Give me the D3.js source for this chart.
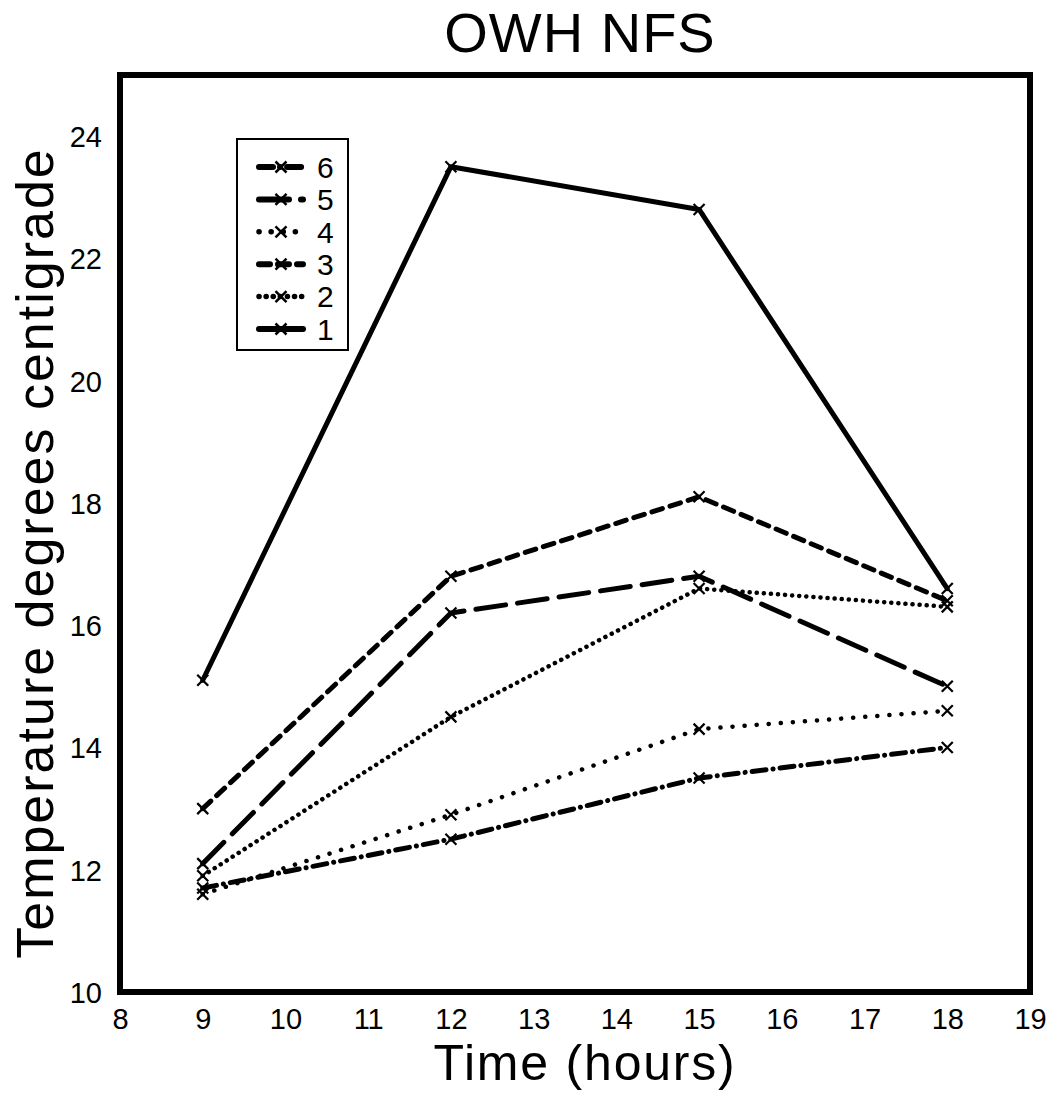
<!DOCTYPE html>
<html lang="en">
<head>
  <meta charset="UTF-8">
  <title>OWH NFS</title>
  <style>
    body { margin: 0; background: #fff; }
    svg { display: block; }
    text { font-family: 'Liberation Sans', Arial, sans-serif; fill: #000; }
  </style>
</head>
<body>
  <svg width="1060" height="1093"></svg>
  <script src="https://d3js.org/d3.v7.min.js"></script>
  <script>
    // data
    const hours = [9, 12, 15, 18];
    const series1 = [15.1, 23.5, 22.8, 16.6];
    const series2 = [11.9, 14.5, 16.6, 16.3];
    const series3 = [13.0, 16.8, 18.1, 16.4];
    const series4 = [11.6, 12.9, 14.3, 14.6];
    const series5 = [12.1, 16.2, 16.8, 15.0];
    const series6 = [11.7, 12.5, 13.5, 14.0];
    const seriesNames = ['1', '2', '3', '4', '5', '6'];
    const xTicks = [8, 9, 10, 11, 12, 13, 14, 15, 16, 17, 18, 19];
    const yTicks = [10, 12, 14, 16, 18, 20, 22, 24];

    const svg = d3.select('svg');

    // plot frame
    const plotLeft = 120, plotRight = 1030, plotTop = 75, plotBottom = 992;

    const x = d3.scaleLinear().domain([8, 19]).range([plotLeft, plotRight]);
    const y = d3.scaleLinear().domain([10, 25]).range([plotBottom, plotTop]);

    // line styles per series (solid, dotted, short dash, sparse dots, long dash, dash-dot)
    const styles = {
      '1': { dash: null, width: 5 },
      '2': { dash: '0.1 7', width: 4.5 },
      '3': { dash: '11 8', width: 5 },
      '4': { dash: '0.1 12', width: 4.5 },
      '5': { dash: '30 12', width: 5 },
      '6': { dash: '14 7 0.1 7', width: 5 }
    };

    const allSeries = [series1, series2, series3, series4, series5, series6];
    const lines = seriesNames.map((name, i) => ({
      name: name,
      points: hours.map((h, j) => ({ h: h, v: allSeries[i][j] }))
    }));

    // title
    svg.append('text')
      .attr('x', 580)
      .attr('y', 52)
      .attr('text-anchor', 'middle')
      .style('font-size', '56px')
      .style('letter-spacing', '1px')
      .text('OWH NFS');

    // axes (labels only, no tick marks)
    const xAxis = d3.axisBottom(x).tickValues(xTicks).tickSize(0).tickPadding(16).tickFormat(d3.format('d'));
    const gx = svg.append('g').attr('transform', `translate(0,${plotBottom})`).call(xAxis);
    gx.select('.domain').remove();
    gx.selectAll('text').style('font-size', '29px').attr('dy', '0.71em');

    const yAxis = d3.axisLeft(y).tickValues(yTicks).tickSize(0).tickPadding(18).tickFormat(d3.format('d'));
    const gy = svg.append('g').attr('transform', `translate(${plotLeft},0)`).call(yAxis);
    gy.select('.domain').remove();
    gy.selectAll('text').style('font-size', '29px').attr('dy', '0.36em');

    // axis titles
    svg.append('text')
      .attr('x', 585)
      .attr('y', 1080)
      .attr('text-anchor', 'middle')
      .style('font-size', '50px')
      .style('letter-spacing', '1.8px')
      .text('Time (hours)');

    svg.append('text')
      .attr('transform', `translate(53,553) rotate(-90)`)
      .attr('text-anchor', 'middle')
      .style('font-size', '52px')
      .style('letter-spacing', '2px')
      .text('Temperature degrees centigrade');

    // series lines
    const line = d3.line().x(d => x(d.h)).y(d => y(d.v));

    svg.selectAll('path.series')
      .data(lines)
      .enter().append('path')
      .attr('class', 'series')
      .attr('d', d => line(d.points))
      .attr('fill', 'none')
      .attr('stroke', '#000')
      .attr('stroke-width', d => styles[d.name].width)
      .attr('stroke-linecap', 'round')
      .attr('stroke-linejoin', 'round')
      .attr('stroke-dasharray', d => styles[d.name].dash);

    // x markers
    const m = 5.5;
    const markerPath = (cx, cy) => `M${cx - m},${cy - m}L${cx + m},${cy + m}M${cx - m},${cy + m}L${cx + m},${cy - m}`;
    lines.forEach(s => {
      svg.selectAll(null)
        .data(s.points)
        .enter().append('path')
        .attr('d', d => markerPath(x(d.h), y(d.v)))
        .attr('stroke', '#000')
        .attr('stroke-width', 2.2)
        .attr('fill', 'none');
    });

    // frame
    svg.append('rect')
      .attr('x', plotLeft)
      .attr('y', plotTop)
      .attr('width', plotRight - plotLeft)
      .attr('height', plotBottom - plotTop)
      .attr('fill', 'none')
      .attr('stroke', '#000')
      .attr('stroke-width', 6);

    // legend
    const legend = svg.append('g').attr('transform', 'translate(237,139)');
    legend.append('rect')
      .attr('width', 111)
      .attr('height', 211)
      .attr('fill', '#fff')
      .attr('stroke', '#000')
      .attr('stroke-width', 2);

    const legendOrder = seriesNames.slice().reverse();
    const ly = d3.scalePoint().domain(legendOrder).range([28, 190]);

    const items = legend.selectAll('g.item')
      .data(legendOrder)
      .enter().append('g')
      .attr('class', 'item')
      .attr('transform', d => `translate(0,${ly(d)})`);

    items.append('line')
      .attr('x1', 22)
      .attr('x2', 66)
      .attr('y1', 0)
      .attr('y2', 0)
      .attr('stroke', '#000')
      .attr('stroke-width', d => styles[d].width + 1)
      .attr('stroke-linecap', 'round')
      .attr('stroke-dasharray', d => styles[d].dash);

    items.append('path')
      .attr('d', markerPath(44, 0))
      .attr('stroke', '#000')
      .attr('stroke-width', 2.5)
      .attr('fill', 'none');

    items.append('text')
      .attr('x', 80)
      .attr('y', 0)
      .attr('dy', '0.36em')
      .style('font-size', '30px')
      .text(d => d);
  </script>
</body>
</html>
